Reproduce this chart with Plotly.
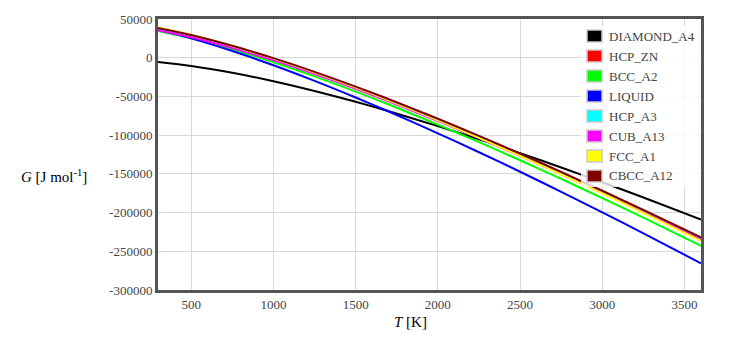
import plotly.graph_objects as go

# ---------------- data ----------------
T = [298.15, 500, 750, 1000, 1250, 1500, 1687, 2000, 2250, 2500, 2750, 3000, 3250, 3600]

G_DIAMOND_A4 = [-5611, -10619, -19443, -30388, -42990, -56968, -68210, -88331, -105391,
                -123212, -141715, -160837, -180527, -208963]
G_HCP_ZN = [37388, 28181, 14157, -1988, -19790, -38968, -54100, -80731, -102991,
            -126012, -149715, -174037, -198927, -234643]
G_BCC_A2 = [34681, 25131, 10682, -5888, -24115, -43718, -59168, -86331, -109016,
            -132462, -156590, -181337, -206652, -242963]
G_LIQUID = [36112, 25027, 8679, -9789, -29908, -51385, -68210, -97613, -122068,
            -147281, -173174, -199686, -226765, -265548]
G_HCP_A3 = [37388, 28181, 14157, -1988, -19790, -38968, -54100, -80731, -102991,
            -126012, -149715, -174037, -198927, -234643]
G_CUB_A13 = [35595, 26475, 12558, -3479, -21173, -40244, -55295, -81792, -103945,
             -126858, -150454, -174668, -199450, -235016]
G_FCC_A1 = [38890, 29481, 15207, -1188, -19240, -38668, -53987, -80931, -103441,
            -126712, -150665, -175237, -200377, -236443]
G_CBCC_A12 = [38522, 29400, 15482, -557, -18253, -37326, -52378, -78877, -101032,
              -123947, -147544, -171760, -196544, -232112]

phase_names = ["DIAMOND_A4", "HCP_ZN", "BCC_A2", "LIQUID", "HCP_A3", "CUB_A13", "FCC_A1", "CBCC_A12"]
phase_values = [G_DIAMOND_A4, G_HCP_ZN, G_BCC_A2, G_LIQUID, G_HCP_A3, G_CUB_A13, G_FCC_A1, G_CBCC_A12]
phase_colors = ["#000000", "#ff0000", "#00ff00", "#0000ff", "#00ffff", "#ff00ff", "#ffff00", "#7f0000"]

x_ticks = [500, 1000, 1500, 2000, 2500, 3000, 3500]
y_ticks = [50000, 0, -50000, -100000, -150000, -200000, -250000, -300000]

# ---------------- layout geometry ----------------
W, H = 743, 344
L, R, TOP, B = 158, 42, 19, 54
PW, PH = W - L - R, H - TOP - B


def px(xp):
    return (xp - L) / PW


def py(yp):
    return (H - B - yp) / PH


SERIF = "Liberation Serif, Times New Roman, serif"

fig = go.Figure()
for name, vals, col in zip(phase_names, phase_values, phase_colors):
    fig.add_trace(go.Scatter(x=T, y=vals, mode="lines", name=name,
                             line=dict(color=col, width=2, shape="spline", smoothing=0.8),
                             showlegend=False))

shapes = []
annotations = []

# legend background (semi-transparent white)
shapes.append(dict(type="rect", xref="paper", yref="paper", layer="above",
                   x0=px(581), x1=px(700), y0=py(187), y1=py(26),
                   fillcolor="rgba(255,255,255,0.8)", line=dict(width=0)))
for i, (name, col) in enumerate(zip(phase_names, phase_colors)):
    cy = 36 + 20 * i
    shapes.append(dict(type="rect", xref="paper", yref="paper", layer="above",
                       x0=px(587), x1=px(602), y0=py(cy + 6), y1=py(cy - 6),
                       fillcolor=col, line=dict(color="#cccccc", width=1.5)))
    annotations.append(dict(text=name, xref="paper", yref="paper",
                            x=px(607), y=py(cy), xanchor="left", yanchor="middle",
                            showarrow=False, font=dict(family=SERIF, size=13, color="#444444")))

# axis titles
annotations.append(dict(text="<i>G</i> [J mol<sup>-1</sup>]", xref="paper", yref="paper",
                        x=px(54), y=py(176), xanchor="center", yanchor="middle",
                        showarrow=False, font=dict(family=SERIF, size=15, color="#000000")))
annotations.append(dict(text="<i>T</i> [K]", xref="paper", yref="paper",
                        x=px(410), y=py(322), xanchor="center", yanchor="middle",
                        showarrow=False, font=dict(family=SERIF, size=15, color="#000000")))

fig.update_layout(
    width=W, height=H,
    margin=dict(l=L, r=R, t=TOP, b=B, pad=0),
    paper_bgcolor="white", plot_bgcolor="white",
    shapes=shapes, annotations=annotations,
    showlegend=False,
    xaxis=dict(range=[298.15, 3600], tickvals=x_ticks, ticktext=[str(v) for v in x_ticks],
               showgrid=True, gridcolor="#d9d9d9", gridwidth=1, zeroline=False,
               showline=True, mirror=True, linecolor="#555555", linewidth=3,
               ticks="", tickfont=dict(family=SERIF, size=13, color="#444444")),
    yaxis=dict(range=[-300000, 50000], tickvals=y_ticks, ticktext=[str(v) for v in y_ticks],
               showgrid=True, gridcolor="#d9d9d9", gridwidth=1, zeroline=False,
               showline=True, mirror=True, linecolor="#555555", linewidth=3,
               ticks="", tickfont=dict(family=SERIF, size=13, color="#444444")),
)

fig.write_html("out.html")
